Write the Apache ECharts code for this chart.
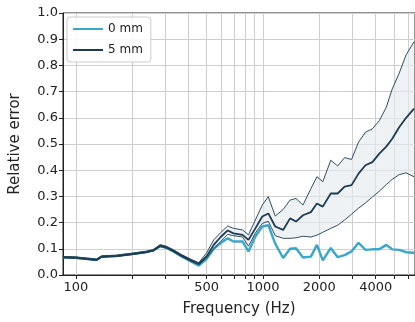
<!DOCTYPE html>
<html>
<head>
<meta charset="utf-8">
<script src="https://cdn.jsdelivr.net/npm/echarts@6/dist/echarts.min.js"></script>
<style>
  html, body { margin: 0; padding: 0; background: #fff; }
  #chart { width: 415px; height: 322px; }
</style>
</head>
<body>
<div id="chart"></div>
<script>
// frequency points (Hz)
var freqs = [85, 100, 129, 137, 165, 198, 238, 259, 282, 304, 331, 365, 412, 454, 500, 545, 594, 647, 696, 777,
  836, 910, 991, 1067, 1162, 1281, 1395, 1501, 1635, 1803, 1941, 2087, 2301, 2506, 2730, 2973, 3238, 3527, 3842,
  4184, 4557, 4903, 5341, 5817, 6413]

// 0 mm relative error
var err0 = [0.068, 0.066, 0.058, 0.070, 0.073, 0.080, 0.088, 0.094, 0.110, 0.104, 0.090, 0.072, 0.052, 0.036, 0.062,
  0.100, 0.122, 0.140, 0.128, 0.128, 0.090, 0.147, 0.185, 0.190, 0.120, 0.065, 0.100, 0.102, 0.067, 0.070, 0.115,
  0.056, 0.103, 0.068, 0.076, 0.090, 0.123, 0.096, 0.098, 0.098, 0.115, 0.098, 0.096, 0.087, 0.085]

// 5 mm relative error (mean, upper and lower bound)
var err5 = [0.068, 0.066, 0.058, 0.070, 0.073, 0.080, 0.088, 0.094, 0.112, 0.106, 0.093, 0.075, 0.056, 0.043, 0.072,
  0.115, 0.145, 0.170, 0.159, 0.153, 0.134, 0.178, 0.223, 0.235, 0.185, 0.172, 0.216, 0.204, 0.228, 0.240, 0.273,
  0.261, 0.311, 0.311, 0.337, 0.343, 0.387, 0.419, 0.431, 0.463, 0.490, 0.520, 0.564, 0.600, 0.635]
var err5Upper = [0.071, 0.069, 0.061, 0.073, 0.076, 0.083, 0.091, 0.097, 0.116, 0.110, 0.097, 0.079, 0.060, 0.047, 0.085,
  0.134, 0.162, 0.187, 0.178, 0.172, 0.153, 0.210, 0.267, 0.299, 0.225, 0.250, 0.286, 0.292, 0.267, 0.330, 0.375,
  0.356, 0.438, 0.416, 0.448, 0.441, 0.507, 0.545, 0.558, 0.589, 0.640, 0.710, 0.770, 0.840, 0.890]
var err5Lower = [0.065, 0.063, 0.055, 0.067, 0.070, 0.077, 0.085, 0.091, 0.108, 0.102, 0.089, 0.071, 0.052, 0.039, 0.065,
  0.100, 0.128, 0.155, 0.150, 0.145, 0.110, 0.160, 0.197, 0.205, 0.150, 0.140, 0.140, 0.142, 0.148, 0.145, 0.152,
  0.163, 0.178, 0.190, 0.210, 0.232, 0.255, 0.275, 0.298, 0.320, 0.345, 0.365, 0.383, 0.390, 0.375]

// axis ticks
var tickFreqs = [100, 200, 300, 400, 500, 600, 700, 800, 900, 1000, 2000, 3000, 4000, 5000, 6000]
var labelFreqs = [100, 500, 1000, 2000, 4000]

var c0 = "#3aa6c8"
var c5 = "#1d3c52"
var font = "DejaVu Sans"

function pts(vals) {
  return freqs.map(function (f, i) { return [Math.log10(f), vals[i]] })
}
var lg = function (arr) { return arr.map(function (f) { return Math.log10(f) }) }

// shaded band between the 5 mm bounds
function renderBand(params, api) {
  var poly = []
  for (var i = 0; i < freqs.length; i++) poly.push(api.coord([Math.log10(freqs[i]), err5Upper[i]]))
  for (var j = freqs.length - 1; j >= 0; j--) poly.push(api.coord([Math.log10(freqs[j]), err5Lower[j]]))
  return {
    type: "polygon",
    shape: { points: poly },
    style: { fill: "#e6ebef", opacity: 0.65 }
  }
}

var chart = echarts.init(document.getElementById("chart"), null, { renderer: "canvas" })
chart.setOption({
  animation: false,
  grid: { left: 61, top: 13, right: -1, bottom: 45, show: true, borderColor: "#222", borderWidth: 1 },
  legend: {
    data: ["0 mm", "5 mm"],
    orient: "vertical",
    left: 67, top: 17,
    padding: [6, 8, 6, 6],
    itemWidth: 30, itemHeight: 2,
    itemGap: 9,
    icon: "rect",
    borderColor: "#ccc", borderWidth: 1, borderRadius: 3,
    backgroundColor: "rgba(255,255,255,0.85)",
    textStyle: { fontFamily: font, fontSize: 12, color: "#222" }
  },
  xAxis: {
    type: "value",
    min: Math.log10(85.3),
    max: Math.log10(6490),
    name: "Frequency (Hz)",
    nameLocation: "middle",
    nameGap: 27,
    nameTextStyle: { fontFamily: font, fontSize: 15, color: "#222" },
    axisLine: { lineStyle: { color: "#222" } },
    axisTick: { customValues: lg(tickFreqs), length: 4, lineStyle: { color: "#222" } },
    axisLabel: {
      customValues: lg(labelFreqs),
      fontFamily: font, fontSize: 13, color: "#222", margin: 6,
      formatter: function (v) { return String(Math.round(Math.pow(10, v))) }
    },
    splitLine: { show: true, lineStyle: { color: "#cfcfcf", width: 1.1 } }
  },
  yAxis: {
    type: "value",
    min: 0, max: 1, interval: 0.1,
    name: "Relative error",
    nameLocation: "middle",
    nameGap: 40,
    nameTextStyle: { fontFamily: font, fontSize: 15, color: "#222" },
    axisLine: { show: true, lineStyle: { color: "#222" } },
    axisTick: { show: true, length: 4, lineStyle: { color: "#222" } },
    axisLabel: {
      fontFamily: font, fontSize: 13, color: "#222", margin: 5,
      formatter: function (v) { return v.toFixed(1) }
    },
    splitLine: { show: true, lineStyle: { color: "#cfcfcf", width: 1.1 } }
  },
  series: [
    {
      name: "band", type: "custom", renderItem: renderBand,
      data: [[Math.log10(freqs[0]), err5Lower[0]]], silent: true, z: 1
    },
    {
      name: "0 mm", type: "line", data: pts(err0), symbol: "none", color: c0,
      lineStyle: { color: c0, width: 2.4 }, z: 2
    },
    {
      name: "5 mm upper", type: "line", data: pts(err5Upper), symbol: "none",
      lineStyle: { color: "#2f4e63", width: 1 }, z: 3
    },
    {
      name: "5 mm lower", type: "line", data: pts(err5Lower), symbol: "none",
      lineStyle: { color: "#2f4e63", width: 1 }, z: 3
    },
    {
      name: "5 mm", type: "line", data: pts(err5), symbol: "none", color: c5,
      lineStyle: { color: c5, width: 1.8 }, z: 4
    }
  ]
})
</script>
</body>
</html>
